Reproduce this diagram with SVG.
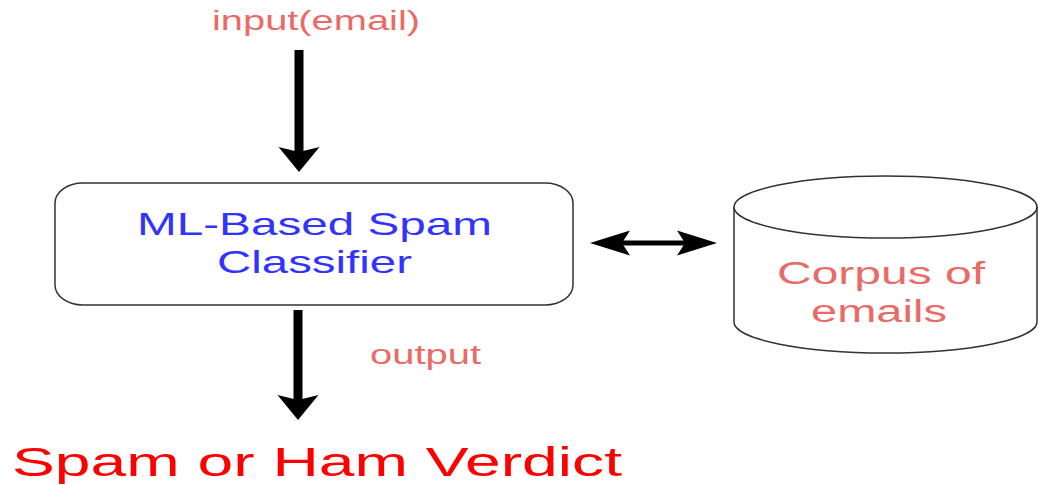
<svg xmlns="http://www.w3.org/2000/svg" width="1039" height="485" viewBox="0 0 1039 485">
  <style>
    .t { font-family: "Liberation Sans", Arial, sans-serif; }
    .pink { fill: #ea6b66; }
    .blue { fill: #3333ff; }
    .red { fill: #ff0000; }
    .shape { fill: #ffffff; stroke: #333333; stroke-width: 1.5; }
    .vline { stroke: #000000; stroke-width: 9; fill: none; }
    .hline { stroke: #000000; stroke-width: 5; fill: none; }
  </style>
  <defs>
    <marker id="headV" markerUnits="userSpaceOnUse" orient="auto" markerWidth="25" markerHeight="41" refX="5" refY="20.5" overflow="visible">
      <path d="M0,0 L25,20.5 L0,41 L5,20.5 Z" fill="#000000"/>
    </marker>
    <marker id="headH" markerUnits="userSpaceOnUse" orient="auto-start-reverse" markerWidth="40" markerHeight="25" refX="8" refY="12.5" overflow="visible">
      <path d="M0,0 L40,12.5 L0,25 L8,12.5 Z" fill="#000000"/>
    </marker>
  </defs>
  <rect width="1039" height="485" fill="#ffffff"/>

  <g id="input-label">
    <text class="t pink" x="212" y="30" font-size="28" textLength="208" lengthAdjust="spacingAndGlyphs">input(email)</text>
  </g>

  <g id="classifier">
    <rect class="shape" x="55" y="183" width="518" height="122" rx="28" ry="20"/>
    <text class="t blue" x="137" y="235" font-size="32" textLength="355" lengthAdjust="spacingAndGlyphs">ML-Based Spam</text>
    <text class="t blue" x="217" y="273" font-size="32" textLength="195" lengthAdjust="spacingAndGlyphs">Classifier</text>
  </g>

  <g id="corpus">
    <path class="shape" d="M734,207 L734,322 A151.5,31 0 0 0 1037,322 L1037,207 A151.5,31 0 0 0 734,207 Z"/>
    <path class="shape" fill="none" d="M734,207 A151.5,31 0 0 0 1037,207"/>
    <text class="t pink" x="777" y="284" font-size="31" textLength="208" lengthAdjust="spacingAndGlyphs">Corpus of</text>
    <text class="t pink" x="811" y="322" font-size="31" textLength="136" lengthAdjust="spacingAndGlyphs">emails</text>
  </g>

  <g id="output-label">
    <text class="t pink" x="370" y="364" font-size="27" textLength="111" lengthAdjust="spacingAndGlyphs">output</text>
  </g>

  <g id="verdict">
    <text class="t red" x="12" y="476" font-size="41" textLength="610" lengthAdjust="spacingAndGlyphs">Spam or Ham Verdict</text>
  </g>

  <g id="connectors">
    <line class="vline" x1="299" y1="50" x2="299" y2="152" marker-end="url(#headV)"/>
    <line class="vline" x1="298" y1="310" x2="298" y2="400" marker-end="url(#headV)"/>
    <line class="hline" x1="622" y1="243" x2="685" y2="243" marker-start="url(#headH)" marker-end="url(#headH)"/>
  </g>
</svg>
